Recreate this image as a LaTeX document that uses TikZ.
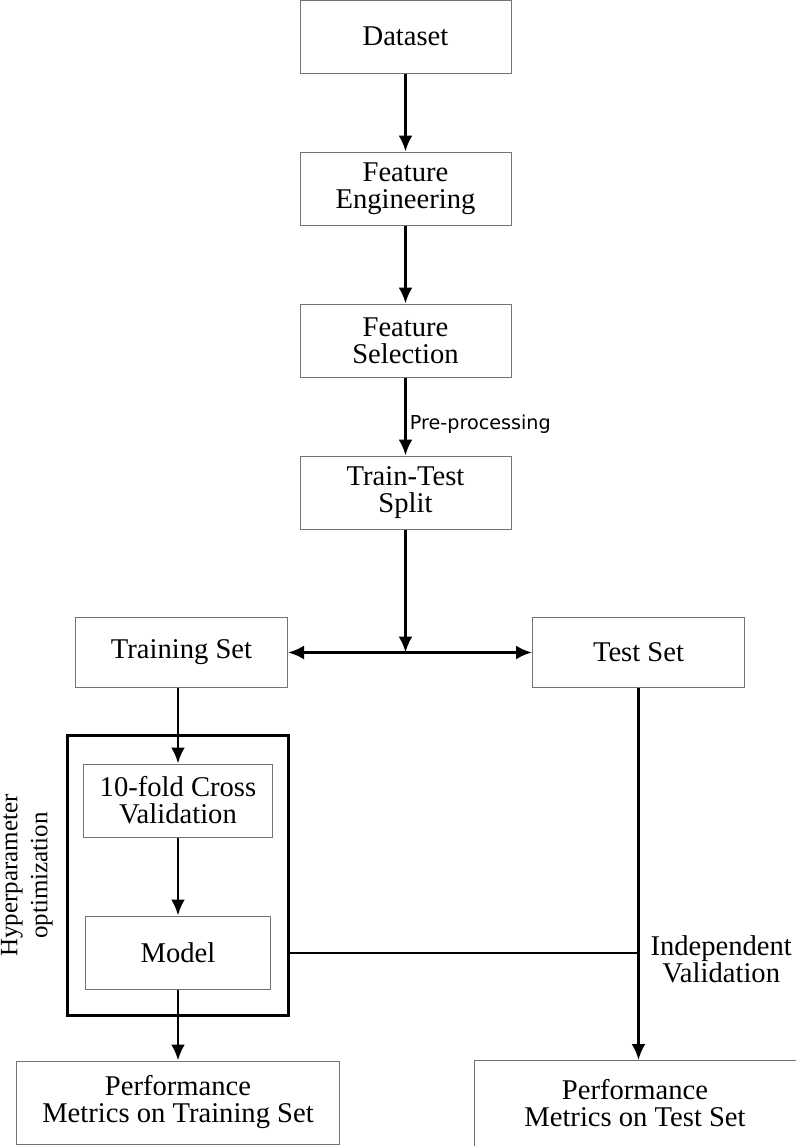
\documentclass[tikz,border=0pt]{standalone}
\usepackage{fontspec}
\setmainfont{Liberation Serif}
\newfontfamily\sansfont{DejaVu Sans}
\usetikzlibrary{arrows.meta, positioning}

\begin{document}
\begin{tikzpicture}[x=0.5pt, y=-0.5pt, node distance=76pt,
		block/.style={rectangle, draw=black!55, line width=0.5pt, minimum width=105.5pt, minimum height=36.5pt, align=center, font=\fontsize{14.3}{13.5}\selectfont},
		flow/.style={line width=1.4pt, ->},
		>={Latex[length=8pt, width=7pt]}]
		\useasboundingbox (0,0) rectangle (796,1146);
		
		\node[block] (data) at (405.5,36.5) {Dataset};
		\node[block, below of=data] (feat) {Feature\\Engineering};
		\node[block, below of=feat] (sel) {Feature\\Selection};
		\node[block, below of=sel] (split) {Train-Test\\Split};
		
		\node[block, minimum width=106pt, minimum height=35pt, below of=split, xshift=-112pt, yshift=-4pt] (train) {Training Set};
		\node[block, minimum width=106pt, minimum height=35pt, right of=train, xshift=152.5pt] (test) {Test Set};
		
		\node[block, minimum width=94.5pt, below of=train, xshift=-1.75pt, yshift=2pt] (cv) {10-fold Cross\\Validation};
		\node[block, minimum width=92.5pt, below of=cv] (model) {Model};
		
		\node[rectangle, draw, line width=1.5pt, minimum width=110.5pt, minimum height=140pt, yshift=-19pt] (hyper) at (cv.south) {};
		\node[rotate=90, anchor=south, align=center, inner sep=0pt, font=\fontsize{12.5}{15}\selectfont] (hlabel) at ([xshift=-6.5pt]hyper.west) {Hyperparameter\\optimization};
		
		\node[block, minimum width=161.5pt, minimum height=41.5pt, below of=model, yshift=1pt] (perftrain) {Performance\\Metrics on Training Set};
		\node[block, minimum width=161pt, minimum height=43pt, right of=perftrain, xshift=152.5pt, yshift=-0.5pt] (perftest) {Performance\\Metrics on Test Set};
		
		\coordinate (fork) at (split.south |- train.east);
		
		\draw[flow] (data) -- (feat);
		\draw[flow] (feat) -- (sel);
		\draw[flow] (sel) -- (split) node[pos=0.6, right, inner sep=1.5pt, font=\sansfont\fontsize{9.6}{10}\selectfont] (pre) {Pre-processing};
		\draw[flow] (split) -- (fork);
		\draw[line width=1.4pt, <->] (train) -- (test);
		
		\draw[flow] (cv.north |- train.south) -- (cv.north);
		\draw[flow] (cv) -- (model);
		\draw[flow] (model) -- (perftrain.north -| model);
		
		\draw[line width=1pt] (hyper.east |- model) -- (model -| test);
		\draw[flow] (test) -- (test.south |- perftest.north) node[pos=0.73, right, align=center, xshift=2pt, font=\fontsize{14.3}{13.5}\selectfont] (indep) {Independent\\Validation};
		
	\end{tikzpicture}
\end{document}
